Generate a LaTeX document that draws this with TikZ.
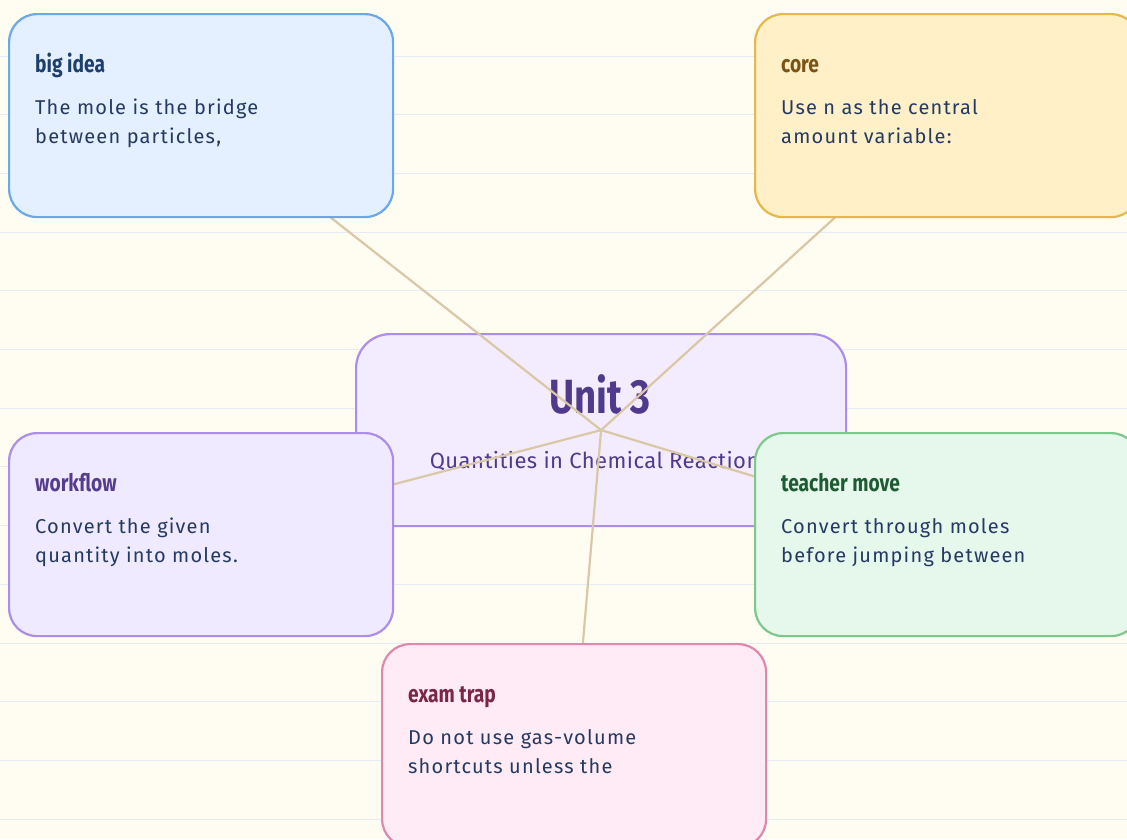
\documentclass[tikz,border=0pt]{standalone}
\usepackage{fontspec}
\setmainfont{Fira Sans}
\newfontfamily\headfont[FakeStretch=0.8]{Fira Sans}
\newfontfamily\bodyfont[LetterSpace=6]{Fira Sans}
\newfontfamily\subfont[LetterSpace=2]{Fira Sans}
\usetikzlibrary{positioning}
\definecolor{paper}{HTML}{FFFCF2}
\definecolor{ruleblue}{HTML}{E3EDF3}
\definecolor{linktan}{HTML}{D9C8A5}
\definecolor{ink}{HTML}{243A62}
\definecolor{ideafill}{HTML}{E4EFFF}\definecolor{ideadraw}{HTML}{6AA8E8}\definecolor{ideattl}{HTML}{1D3E6E}
\definecolor{corefill}{HTML}{FFF0C8}\definecolor{coredraw}{HTML}{E5B84A}\definecolor{corettl}{HTML}{7A5414}
\definecolor{unitfill}{HTML}{F3ECFF}\definecolor{unitdraw}{HTML}{AC8EE8}\definecolor{unitttl}{HTML}{4F3A8C}
\definecolor{flowfill}{HTML}{EFEAFF}\definecolor{flowdraw}{HTML}{AC8EE8}\definecolor{flowttl}{HTML}{563C8F}
\definecolor{teachfill}{HTML}{E6F7EC}\definecolor{teachdraw}{HTML}{7DC88C}\definecolor{teachttl}{HTML}{1F5B32}
\definecolor{trapfill}{HTML}{FFEBF5}\definecolor{trapdraw}{HTML}{DF88AD}\definecolor{trapttl}{HTML}{7B2547}
\pgfdeclarelayer{sheet}
\pgfdeclarelayer{wires}
\pgfsetlayers{sheet,wires,main}

\begin{document}
\begin{tikzpicture}[x=1pt,y=-1pt,
			card/.style={draw,line width=2.2pt,rounded corners=28pt,minimum width=384pt,minimum height=203pt,inner sep=0pt,anchor=north west},
			ttl/.style={anchor=base west,inner sep=0pt,font=\headfont\bfseries\fontsize{24}{26}\selectfont},
			txt/.style={anchor=base west,inner sep=0pt,align=left,text=ink,font=\bodyfont\fontsize{20}{29}\selectfont},
			link/.style={draw=linktan,line width=2.2pt},
			rule/.style={draw=ruleblue,line width=1pt}]
			\useasboundingbox (0,0) rectangle (1127,839);
			\clip (0,0) rectangle (1127,839);
			\begin{pgfonlayer}{sheet}
			\fill[paper] (0,0) rectangle (1127,839);
			\foreach \k in {0,...,13}
				\draw[rule] (0,56+58.7*\k) -- (1127,56+58.7*\k);
			\node [card,fill=unitfill,draw=unitdraw,minimum width=490pt,minimum height=192pt,rounded corners=34pt]
				(unit) at (355,333) {};
				\node [anchor=base,inner sep=0pt,text=unitttl,font=\headfont\bfseries\fontsize{48}{52}\selectfont]
					(unitname) at (600,413) {Unit 3};
				\node [anchor=base,inner sep=0pt,text=unitttl,font=\subfont\fontsize{22}{26}\selectfont]
					(unitsub) at (600,468) {Quantities in Chemical Reactions};
			\end{pgfonlayer}
			\node [card,fill=ideafill,draw=ideadraw]		(idea)		at (8,13)		{};
				\node [ttl,text=ideattl]	(ideattl)	at (35,72)	{big idea};
				\node [txt]	(ideatxt)	at (35,143)	{The mole is the bridge\\between particles,};
			\node [card,fill=corefill,draw=coredraw]		(core)		at (754,13)		{};
				\node [ttl,text=corettl]	(corettl)	at (781,72)	{core};
				\node [txt]	(coretxt)	at (781,143)	{Use n as the central\\amount variable:};
			\node [card,fill=flowfill,draw=flowdraw]		(flow)		at (8,432)		{};
				\node [ttl,text=flowttl]	(flowttl)	at (35,491)	{workflow};
				\node [txt]	(flowtxt)	at (35,562)	{Convert the given\\quantity into moles.};
			\node [card,fill=teachfill,draw=teachdraw]	(teach)		at (754,432)	{};
				\node [ttl,text=teachttl]	(teachttl)	at (781,491)	{teacher move};
				\node [txt]	(teachtxt)	at (781,562)	{Convert through moles\\before jumping between};
			\node [card,fill=trapfill,draw=trapdraw]		(trap)		at (381,643)	{};
				\node [ttl,text=trapttl]	(trapttl)	at (408,702)	{exam trap};
				\node [txt]	(traptxt)	at (408,773)	{Do not use gas-volume\\shortcuts unless the};
			\begin{pgfonlayer}{wires}
			\foreach \t in {idea,core,flow,teach,trap}
				\draw [link] (unit.center) -- (\t.center);
			\end{pgfonlayer}
		\end{tikzpicture}
\end{document}
